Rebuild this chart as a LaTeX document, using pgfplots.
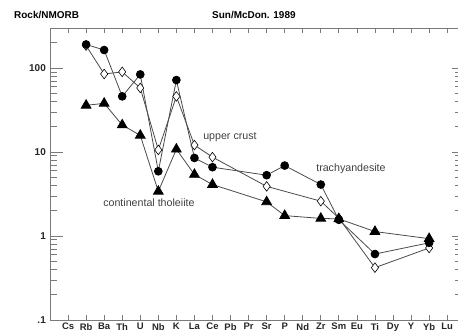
\documentclass[border=0pt]{standalone}
\usepackage{pgfplots}
\pgfplotsset{compat=1.18}
\usepackage{pgfplotstable}
\usepackage{fontspec}
\setmainfont{Liberation Sans}

\definecolor{axisgray}{HTML}{7A7A7A}
\definecolor{linegray}{HTML}{4A4A4A}
\definecolor{labelgray}{HTML}{404040}

% element index (Cs=0 ... Lu=21) and normalised abundance
\pgfplotstableread{
x y
1 191
2 164
3 46
4 84
5 5.9
6 72
7 8.5
8 6.6
11 5.3
12 6.9
14 4.1
15 1.56
17 0.61
20 0.83
}\trachy
\pgfplotstableread{
x y
1 185
2 85
3 90
4 58
5 10.6
6 46
7 12.1
8 8.7
11 3.9
14 2.6
15 1.63
17 0.42
20 0.72
}\crust
\pgfplotstableread{
x y
1 36
2 38
3 21
4 15.8
5 3.4
6 10.8
7 5.4
8 4.1
11 2.55
12 1.75
14 1.62
15 1.6
17 1.13
20 0.93
}\tholeiite

\begin{document}
\begin{tikzpicture}
% x axis, data and labels
\begin{axis}[
    scale only axis, width=408bp, height=292bp,
    ymode=log, ymin=0.1, ymax=300,
    xmin=-1, xmax=21.6,
    axis line style={axisgray, line width=0.9pt},
    tick style={axisgray, line width=0.8pt},
    tick align=inside,
    clip=false,
    xtick={0,...,21},
    xticklabels={Cs,Rb,Ba,Th,U,Nb,K,La,Ce,Pb,Pr,Sr,P,Nd,Zr,Sm,Eu,Ti,Dy,Y,Yb,Lu},
    xtick pos=both, major tick length=5bp,
    xticklabel style={font=\fontsize{9.5}{10}\selectfont\bfseries, text=black!85, inner sep=1pt, yshift=-2bp},
    ytick=\empty,
  ]
  \addplot[linegray, line width=0.8pt, mark=diamond*, mark size=4.8bp, mark options={black, fill=white, line width=0.6pt}] table {\crust};
  \addplot[linegray, line width=0.8pt, mark=*, mark size=3.9bp, mark options={black, fill=black}] table {\trachy};
  \addplot[linegray, line width=0.8pt, mark=triangle*, mark size=5.6bp, mark options={black, fill=black}] table {\tholeiite};

  \node[anchor=west, inner sep=0pt, font=\fontsize{10.7}{12}\selectfont, text=labelgray] at (axis cs:7.48,15.1) {upper crust};
  \node[anchor=west, inner sep=0pt, font=\fontsize{10.7}{12}\selectfont, text=labelgray] at (axis cs:13.74,6.31) {trachyandesite};
  \node[anchor=west, inner sep=0pt, font=\fontsize{10.7}{12}\selectfont, text=labelgray] at (axis cs:1.94,2.51) {continental tholeiite};
\end{axis}
% left y axis with labelled decades
\begin{axis}[
    scale only axis, width=408bp, height=292bp,
    ymode=log, ymin=0.1, ymax=300,
    xmin=-1, xmax=21.6,
    axis line style={axisgray, line width=0.9pt},
    tick style={axisgray, line width=0.8pt},
    tick align=inside,
    xtick=\empty,
    ytick={0.1,1,10,100}, yticklabels={.1,1,10,100},
    minor ytick={0.2,0.3,0.4,0.5,0.6,0.7,0.8,0.9,2,3,4,5,6,7,8,9,20,30,40,50,60,70,80,90,200},
    ytick pos=left,
    major tick length=13bp, minor tick length=7bp,
    yticklabel style={font=\fontsize{10}{11}\selectfont\bfseries, text=black!85, inner sep=1pt, xshift=-3bp},
  ]
\end{axis}
% right y axis, major ticks only
\begin{axis}[
    scale only axis, width=408bp, height=292bp,
    ymode=log, ymin=0.1, ymax=300,
    xmin=-1, xmax=21.6,
    axis line style={axisgray, line width=0.9pt},
    tick style={axisgray, line width=0.8pt},
    tick align=inside,
    xtick=\empty,
    ytick={0.1,1,10,100}, yticklabels={},
    ytick pos=right,
    major tick length=6bp,
  ]
\end{axis}
% headings above the frame
\node[anchor=west, inner sep=0pt, font=\fontsize{10}{11}\selectfont\bfseries]
  at ([xshift=-36bp, yshift=13bp]current axis.north west) {Rock/NMORB};
\node[anchor=west, inner sep=0pt, font=\fontsize{10}{11}\selectfont\bfseries]
  at ([xshift=162bp, yshift=13bp]current axis.north west) {Sun/McDon. 1989};
\pgfresetboundingbox
\path[use as bounding box] ([xshift=-50bp,yshift=-12bp]current axis.south west) rectangle ([yshift=28bp]current axis.north east);
\end{tikzpicture}
\end{document}
